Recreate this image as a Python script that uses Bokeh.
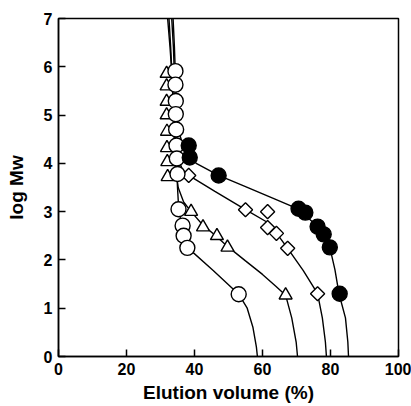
import math
from bokeh.plotting import figure
from bokeh.embed import file_html
from bokeh.resources import INLINE
from bokeh.models import FixedTicker

# ---- data ----
circ_x = [34.4, 34.4, 34.5, 34.5, 34.6, 34.7, 34.8, 35.0, 35.3, 36.5, 36.8, 37.9, 53.0]
circ_y = [5.91, 5.63, 5.29, 5.02, 4.70, 4.37, 4.10, 3.78, 3.05, 2.71, 2.50, 2.25, 1.29]

tri_x = [31.8, 31.8, 31.8, 31.8, 31.9, 31.9, 32.0, 32.1, 39.0, 42.5, 46.6, 49.7, 66.8]
tri_y = [5.86, 5.60, 5.28, 5.00, 4.66, 4.32, 4.03, 3.72, 3.00, 2.68, 2.50, 2.26, 1.27]

dia_x = [38.3, 55.0, 61.5, 61.5, 64.1, 67.4, 76.2]
dia_y = [3.75, 3.04, 3.00, 2.67, 2.55, 2.24, 1.30]

fill_x = [38.3, 38.6, 47.1, 70.6, 72.6, 76.2, 78.0, 79.8, 82.7]
fill_y = [4.37, 4.12, 3.75, 3.06, 2.98, 2.69, 2.53, 2.26, 1.30]

# fitted curves
circ_fit_x = [32.1, 32.8, 33.4, 33.9, 34.3, 34.7, 35.0, 35.4, 36.4, 37.9, 45.5, 53.0, 55.5, 57.2, 58.2, 58.5]
circ_fit_y = [7.0, 6.4, 5.8, 5.2, 4.6, 4.0, 3.5, 3.0, 2.7, 2.26, 1.78, 1.29, 1.0, 0.6, 0.2, 0.0]

tri_fit_x = [32.5, 33.0, 33.4, 33.7, 34.0, 34.3, 35.2, 36.8, 39.0, 42.5, 46.6, 49.7, 55.0, 60.0, 64.0, 66.8, 68.6, 69.9, 70.3]
tri_fit_y = [7.0, 6.4, 5.8, 5.2, 4.6, 4.0, 3.5, 3.2, 3.0, 2.72, 2.48, 2.28, 1.98, 1.70, 1.45, 1.27, 0.8, 0.3, 0.0]

dia_fit_x = [33.3, 33.8, 34.1, 34.4, 34.7, 35.3, 36.5, 38.3, 46.0, 55.0, 61.4, 64.5, 67.4, 72.0, 76.2, 77.6, 78.5, 78.8]
dia_fit_y = [7.0, 6.4, 5.8, 5.2, 4.6, 4.1, 3.85, 3.75, 3.42, 3.04, 2.78, 2.52, 2.24, 1.78, 1.30, 0.8, 0.3, 0.0]

fill_fit_x = [33.7, 34.1, 34.4, 34.7, 35.2, 36.5, 38.4, 40.5, 47.1, 55.0, 63.0, 70.6, 74.5, 77.5, 79.8, 81.3, 82.5, 84.4, 85.1, 85.3]
fill_fit_y = [7.0, 6.4, 5.8, 5.2, 4.7, 4.4, 4.22, 4.0, 3.75, 3.52, 3.28, 3.05, 2.8, 2.5, 2.26, 1.8, 1.3, 0.8, 0.3, 0.0]

x_ticks = [0, 20, 40, 60, 80, 100]
y_ticks = [0, 1, 2, 3, 4, 5, 6, 7]

FONT = "Liberation Sans"

p = figure(width=411, height=406, x_range=(0, 100), y_range=(0, 7),
           output_backend="svg", toolbar_location=None,
           min_border_left=58, min_border_right=13, min_border_top=18, min_border_bottom=50)
p.xgrid.visible = False
p.ygrid.visible = False
p.background_fill_color = "white"
p.border_fill_color = "white"
p.outline_line_color = "black"
p.outline_line_width = 1.5

for ax in (p.xaxis[0], p.yaxis[0]):
    ax.axis_line_width = 1.5
    ax.axis_line_color = "black"
    ax.major_tick_in = 7
    ax.major_tick_out = 0
    ax.major_tick_line_width = 1.5
    ax.minor_tick_line_color = None
    ax.major_label_text_font = FONT
    ax.major_label_text_font_style = "bold"
    ax.major_label_text_font_size = "16px"
    ax.major_label_text_color = "black"
    ax.axis_label_text_font = FONT
    ax.axis_label_text_font_style = "bold"
    ax.axis_label_text_font_size = "19px"
    ax.axis_label_text_color = "black"

p.xaxis[0].ticker = FixedTicker(ticks=x_ticks)
p.yaxis[0].ticker = FixedTicker(ticks=y_ticks)
p.xaxis[0].axis_label = "Elution volume (%)"
p.yaxis[0].axis_label = "log Mw"
p.xaxis[0].major_label_standoff = 6
p.xaxis[0].axis_label_standoff = 4
p.yaxis[0].major_label_standoff = 6
p.yaxis[0].axis_label_standoff = 14

LW = 1.4
for fx, fy in ((circ_fit_x, circ_fit_y), (tri_fit_x, tri_fit_y),
               (dia_fit_x, dia_fit_y), (fill_fit_x, fill_fit_y)):
    p.line(fx, fy, line_color="black", line_width=LW)

p.scatter(tri_x, tri_y, marker="triangle", size=13, fill_color="white",
          line_color="black", line_width=LW)
p.scatter(dia_x, dia_y, marker="square", angle=math.pi / 4, size=10,
          fill_color="white", line_color="black", line_width=LW)
p.scatter(circ_x, circ_y, marker="circle", size=15, fill_color="white",
          line_color="black", line_width=LW)
p.scatter(fill_x, fill_y, marker="circle", size=15, fill_color="black",
          line_color="black", line_width=LW)

open("out.html", "w").write(file_html(p, INLINE))
